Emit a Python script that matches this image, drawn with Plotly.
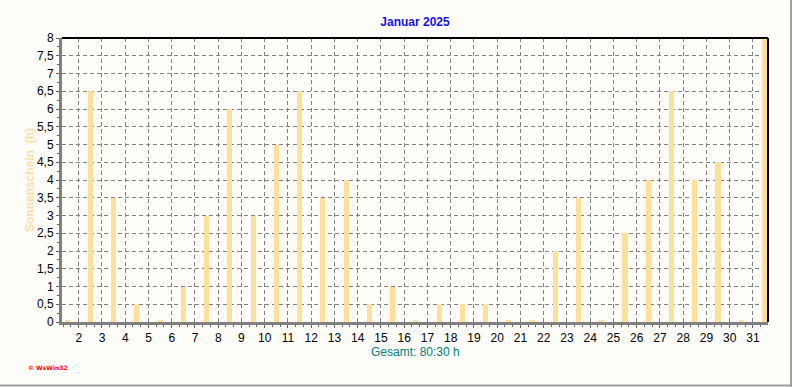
import plotly.graph_objects as go

days = list(range(1, 32))
sunshine = [0, 6.5, 3.5, 0.5, 0, 1.0, 3.0, 6.0, 3.0, 5.0, 6.5, 3.5, 4.0, 0.5, 1.0,
            0, 0.5, 0.5, 0.5, 0, 0, 2.0, 3.5, 0, 2.5, 4.0, 6.5, 4.0, 4.5, 0, 8.0]
tick_vals = list(range(2, 32))
tick_text = [str(v) for v in tick_vals]
title_text = "Januar 2025"
y_title = "Sonnenschein  (h)"
total_text = "Gesamt: 80:30 h"

bar_color = "#FFDF9C"
bg = "#FEFDF9"

# zero days are drawn as a thin stub like in the original
shown = [v if v > 0 else 0.04 for v in sunshine]
xpos = [d + 0.5 for d in days]

fig = go.Figure()
fig.add_trace(go.Bar(x=xpos, y=shown, width=0.22, marker=dict(color=bar_color, line=dict(width=0)),
                     hoverinfo="skip"))

font_family = "Liberation Sans, Arial, sans-serif"
fig.update_layout(
    width=792, height=387,
    margin=dict(l=62, r=24, t=38, b=65, autoexpand=False),
    paper_bgcolor=bg, plot_bgcolor=bg,
    separators=", ",
    showlegend=False,
    bargap=0,
    font=dict(family=font_family, size=12, color="black"),
    title=dict(text="<b>" + title_text + "</b>", x=(415) / 792, xanchor="center",
               y=1 - 22 / 387, yanchor="middle",
               font=dict(family=font_family, size=12, color="#1414E6")),
    xaxis=dict(range=[1.28, 31.65], tickmode="array", tickvals=tick_vals, ticktext=tick_text,
               showgrid=True, gridcolor="#808080", griddash="4px,3px", gridwidth=1,
               zeroline=False, showline=True, linecolor="#808080", linewidth=3,
               ticks="outside", ticklen=3, tickcolor="#606060", tickwidth=1,
               minor=dict(dtick=1 / 3, tick0=0, ticks="outside", ticklen=2, tickcolor="#606060",
                          showgrid=False),
               tickfont=dict(size=12, color="black"), fixedrange=True),
    yaxis=dict(range=[0, 8], dtick=0.5, tick0=0,
               showgrid=True, gridcolor="#808080", griddash="4px,3px", gridwidth=1,
               zeroline=False, showline=True, linecolor="#808080", linewidth=3,
               ticks="outside", ticklen=3, tickcolor="#606060", tickwidth=1,
               minor=dict(dtick=0.25, ticks="outside", ticklen=2, tickcolor="#606060", showgrid=False),
               tickfont=dict(size=12, color="black"),
               fixedrange=True),
)

# y-axis title placed like the original
fig.add_annotation(text="<b>" + y_title + "</b>", xref="paper", yref="paper",
                   x=(30 - 62) / 706, y=(322 - 180) / 284, textangle=-90, showarrow=False,
                   xanchor="center", yanchor="middle",
                   font=dict(family=font_family, size=12, color="#FFE0A6"))

# top and right frame lines (black)
fig.add_shape(type="line", xref="x domain", yref="y domain", x0=0, x1=1, y0=1, y1=1,
              line=dict(color="black", width=2))
fig.add_shape(type="line", xref="x domain", yref="y domain", x0=1, x1=1, y0=0, y1=1,
              line=dict(color="black", width=2))

# outer gray image border on right and bottom
fig.add_shape(type="line", xref="paper", yref="paper",
              x0=(791 - 62) / 706, x1=(791 - 62) / 706, y0=(322 - 387) / 284, y1=(322 - 0) / 284,
              line=dict(color="#A0A0A0", width=2))
fig.add_shape(type="line", xref="paper", yref="paper",
              x0=-62 / 706, x1=(792 - 62) / 706, y0=(322 - 385.5) / 284, y1=(322 - 385.5) / 284,
              line=dict(color="#A0A0A0", width=2))

fig.add_annotation(text=total_text, xref="paper", yref="paper",
                   x=(415 - 62) / 706, y=(322 - 352) / 284, showarrow=False,
                   xanchor="center", yanchor="middle",
                   font=dict(family=font_family, size=12, color="#008080"))
fig.add_annotation(text="<b>© WsWin32</b>", xref="paper", yref="paper",
                   x=(26 - 62) / 706, y=(322 - 367) / 284, showarrow=False,
                   xanchor="left", yanchor="middle",
                   font=dict(family="DejaVu Sans, sans-serif", size=6, color="#FF0000"))

fig.write_html("out.html", config={"displayModeBar": False},
               post_script="document.body.style.margin='0';document.body.style.overflow='hidden';")
